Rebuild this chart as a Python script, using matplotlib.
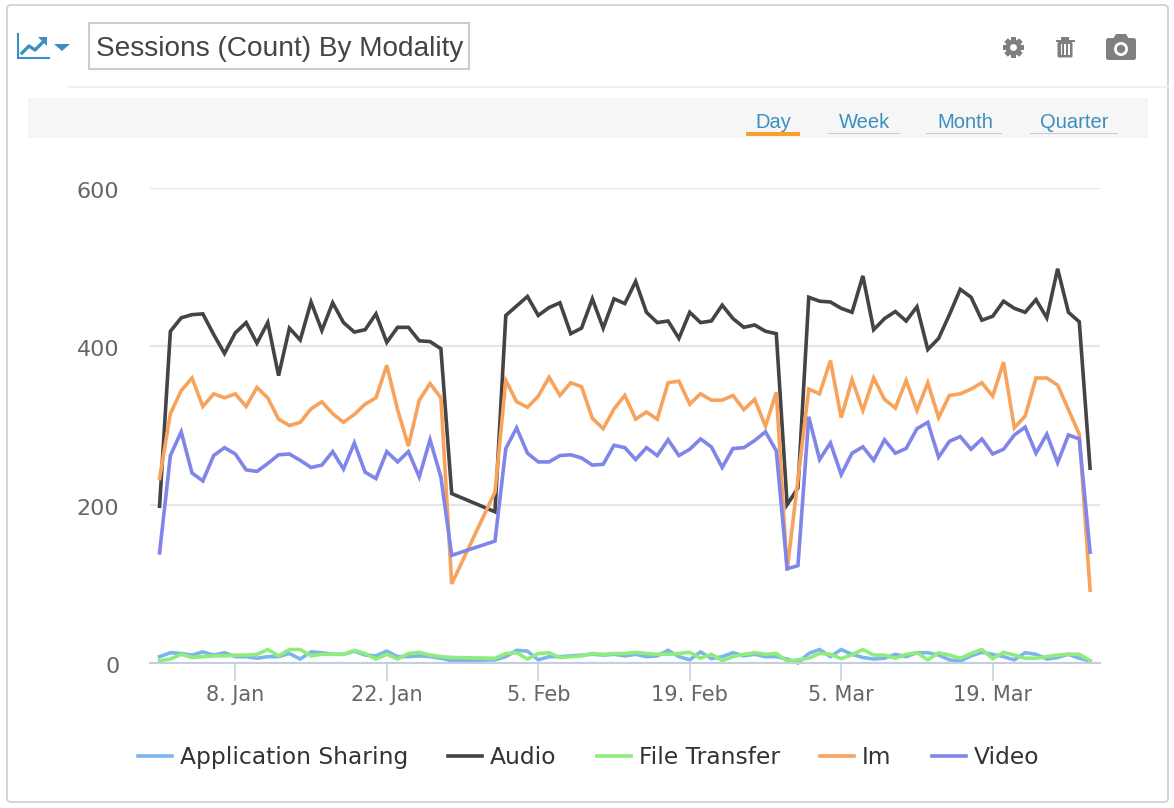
import numpy as np
import pandas as pd
import matplotlib
matplotlib.use('Agg')
import matplotlib.pyplot as plt
import matplotlib.dates as mdates
from matplotlib.patches import Rectangle, FancyBboxPatch, Circle, Polygon
from matplotlib.transforms import Affine2D, ScaledTranslation

# days with data, 29-31 Jan are missing in the source so the lines run straight across
dates = pd.date_range('2018-01-01', '2018-03-28').delete([28, 29, 30])

app_sharing = [8, 13, 12, 10, 14, 10, 13, 8, 8, 6, 8, 8, 12, 5, 14, 13, 11, 11, 15, 10, 9, 15, 8, 8, 9, 8, 6, 3,
               4, 8, 16, 15, 4, 8, 8, 9, 10, 11, 10, 11,
               9, 11, 8, 9, 16, 8, 4, 14, 5.5, 8, 13, 9, 11, 8, 8, 5, 0, 12, 17, 8, 17, 11, 7, 5, 6, 11, 8, 13, 13,
               10, 4, 2.5, 9, 13.5, 11, 8, 4, 13, 11, 5, 7, 11, 6, 2.5]
audio = [198, 419, 436, 440, 441, 415, 391, 417, 430, 404, 430, 363, 423, 408, 456, 420, 455, 430, 418, 421, 441,
         405, 424, 424, 407, 406, 397, 214,
         191, 439, 451, 463, 439, 449, 455, 416, 423, 460, 423, 460, 454, 482, 443, 430, 432, 410, 443, 430, 432,
         452, 435, 424, 427, 419, 416, 200, 221, 462, 457, 456, 448, 443, 489, 421, 435, 444, 432, 450, 396,
         410, 440, 472, 462, 433, 438, 457, 448, 443, 459, 436, 498, 443, 431, 246]
file_transfer = [3, 5, 11, 7, 8, 9, 9, 10, 10, 11, 17, 9, 17, 17, 9, 11, 11, 11, 16, 12, 5, 11, 5, 12, 13.5, 10, 8, 7,
                 6, 12, 13, 5, 12, 13, 7, 8, 9, 12, 11, 12,
                 12, 13.5, 12, 11, 11, 12, 13.5, 6, 11, 3, 8, 11, 13, 11, 12, 2.5, 4, 6, 12, 11, 5.5, 10.5, 17, 10,
                 10, 6, 11, 13, 4, 13, 10, 6, 12, 17, 5.5, 13.5, 10, 6, 6, 8, 10, 11, 11, 3]
im = [233, 315, 344, 360, 324, 340, 335, 340, 324, 348, 335, 308, 300, 304, 321, 330, 315, 304, 314, 327, 335, 376,
      320, 274, 332, 353, 335, 100,
      216, 357, 330, 323, 337, 361, 338, 354, 349, 309, 296, 321, 338, 308, 317, 308, 354, 356, 327, 340, 332, 332,
      338, 320, 333, 299, 342, 117, 232, 346, 340, 382, 310, 358, 319, 360, 333, 322, 357, 319, 354, 310, 338, 340,
      346, 354, 337, 380, 297, 312, 360, 360, 351, 320, 289, 92]
video = [139, 262, 292, 240, 230, 262, 272, 264, 244, 242, 252, 263, 264, 256, 247, 250, 267, 245, 278, 241, 233,
         267, 254, 267, 235, 282, 235, 136,
         154, 271, 297, 265, 254, 254, 262, 263, 259, 250, 251, 275, 272, 257, 272, 262, 282, 262, 270, 283, 273,
         247, 271, 272, 281, 292, 268, 119, 123, 311, 257, 278, 238, 265, 273, 256, 282, 265, 271, 296, 304, 260,
         280, 286, 270, 283, 264, 270, 288, 298, 265, 289, 253, 288, 283, 140]

series_names = ['Application Sharing', 'Audio', 'File Transfer', 'Im', 'Video']
series_values = [app_sharing, audio, file_transfer, im, video]
colors = ['#7cb5ec', '#434348', '#90ed7d', '#f7a35c', '#8085e9']

tick_dates = ['2018-01-08', '2018-01-22', '2018-02-05', '2018-02-19', '2018-03-05', '2018-03-19']
tick_labels = ['8. Jan', '22. Jan', '5. Feb', '19. Feb', '5. Mar', '19. Mar']
y_ticks = [0, 200, 400, 600]
tabs = ['Day', 'Week', 'Month', 'Quarter']

W, H = 1174, 808
fig = plt.figure(figsize=(W / 100, H / 100), dpi=100)

# page furniture drawn in pixel coordinates
bg = fig.add_axes([0, 0, 1, 1])
bg.set_xlim(0, W)
bg.set_ylim(H, 0)
bg.axis('off')

bg.add_patch(FancyBboxPatch((7, 5), 1161, 797, boxstyle='round,pad=0,rounding_size=4',
                            fc='white', ec='#d4d4d4', lw=1.4))
bg.plot([68, 1168], [87, 87], color='#f0f0f0', lw=1.2)
bg.add_patch(Rectangle((28, 98), 1120, 40, fc='#f6f6f6', ec='none'))

# title box
bg.add_patch(Rectangle((89, 23), 380, 46, fc='white', ec='#cccccc', lw=1.5))
bg.text(96, 48.5, 'Sessions (Count) By Modality', family='Liberation Sans', fontsize=20.2,
        color='#444444', va='center', ha='left')

# chart type icon
blue = '#3b8fc0'
bg.plot([18, 18, 49], [34, 57.5, 57.5], color=blue, lw=1.5, solid_joinstyle='miter')
bg.plot([22, 29, 35, 44], [53, 46, 50, 41], color=blue, lw=2.4)
bg.add_patch(Polygon([[38, 37], [47, 37], [47, 46]], fc=blue, ec='none'))
bg.add_patch(Polygon([[54, 44], [70, 44], [62, 51]], fc=blue, ec='none'))

# gear
grey = '#7f7f7f'
for ang in np.arange(0, 180, 45):
    tooth = Rectangle((1013.5 - 2.6, 47.5 - 10.5), 5.2, 21, fc=grey, ec='none',
                      transform=Affine2D().rotate_deg_around(1013.5, 47.5, ang) + bg.transData)
    bg.add_patch(tooth)
bg.add_patch(Circle((1013.5, 47.5), 8, fc=grey, ec='none'))
bg.add_patch(Circle((1013.5, 47.5), 3.4, fc='white', ec='none'))

# trash can
bg.add_patch(FancyBboxPatch((1057.5, 42), 15, 15.5, boxstyle='round,pad=0,rounding_size=1.5', fc=grey, ec='none'))
bg.add_patch(Rectangle((1055.5, 39.5), 19, 2, fc=grey, ec='none'))
bg.add_patch(Rectangle((1061, 37), 8, 3, fc=grey, ec='none'))
for bx in [1060.5, 1064.2, 1068]:
    bg.add_patch(Rectangle((bx, 44), 1.6, 11, fc='white', ec='none'))

# camera
bg.add_patch(FancyBboxPatch((1106, 38), 30, 22, boxstyle='round,pad=0,rounding_size=2.5', fc=grey, ec='none'))
bg.add_patch(Polygon([[1113, 39], [1116, 34], [1126, 34], [1129, 39]], fc=grey, ec='none'))
bg.add_patch(Circle((1121, 49), 7, fc='white', ec='none'))
bg.add_patch(Circle((1121, 49), 4.2, fc=grey, ec='none'))

# period tabs
tab_centers = [773, 864.5, 965, 1074.5]
tab_spans = [(746, 800), (828, 900), (926, 1002), (1030, 1118)]
for i, name in enumerate(tabs):
    bg.text(tab_centers[i], 122.5, name, family='Liberation Sans', fontsize=14.5, color='#3b8fc0',
            ha='center', va='center')
    a, b = tab_spans[i]
    if i == 0:
        bg.add_patch(Rectangle((a, 132), b - a, 3.5, fc='#f9a02b', ec='none'))
    else:
        bg.add_patch(Rectangle((a, 132.5), b - a, 1.8, fc='#cccccc', ec='none'))

# the chart
ax = fig.add_axes([150 / W, 1 - 663 / H, 950 / W, 475 / H])
ax.patch.set_alpha(0)
for name, vals, col in zip(series_names, series_values, colors):
    ax.plot(dates, vals, color=col, lw=2.6, label=name, solid_joinstyle='miter', clip_on=False)

day_px = 10.82
jan8 = mdates.date2num(pd.Timestamp('2018-01-08'))
ax.set_xlim(jan8 - (235.3 - 150) / day_px, jan8 + (1100 - 235.3) / day_px)
ax.set_ylim(0, 600)

for s in ['top', 'left', 'right']:
    ax.spines[s].set_visible(False)
ax.spines['bottom'].set_color('#c0d0e0')
ax.spines['bottom'].set_linewidth(1.5)

ax.set_yticks(y_ticks)
ax.grid(axis='y', color='#e6e6e6', lw=1.6)
ax.set_axisbelow(True)
ax.set_xticks(mdates.date2num(pd.to_datetime(tick_dates)))
ax.set_xticklabels(tick_labels)
ax.tick_params(axis='y', length=0, pad=22, labelsize=16, labelcolor='#666666')
ax.tick_params(axis='x', length=13, width=1.1, color='#c0d0e0', pad=2.5, labelsize=15, labelcolor='#666666')

# y labels sit a little under their gridlines
shift = ScaledTranslation(0, -2 / 100, fig.dpi_scale_trans)
for lab in ax.get_yticklabels():
    lab.set_transform(lab.get_transform() + shift)

ax.legend(loc='center', bbox_to_anchor=((588.5 - 150) / 950, -0.199), ncol=5, frameon=False,
          fontsize=16.8, labelcolor='#333333', handlelength=1.46, handletextpad=0.34, columnspacing=1.72)

plt.savefig('out.png', dpi=100)
